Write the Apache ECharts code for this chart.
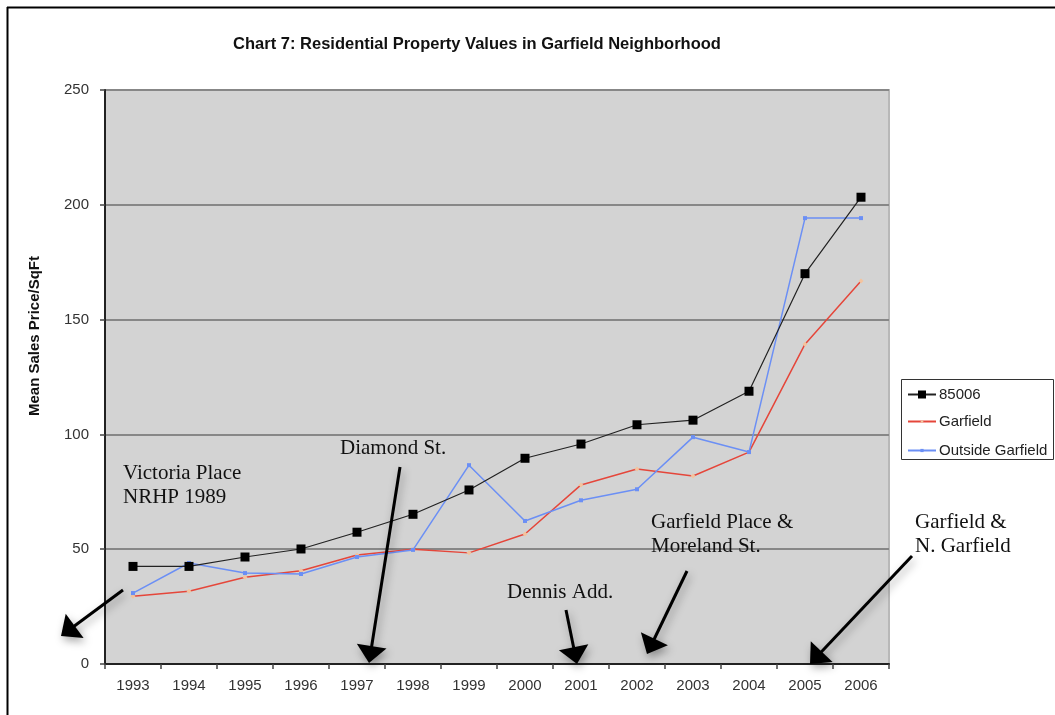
<!DOCTYPE html>
<html>
<head>
<meta charset="utf-8">
<script src="https://cdn.jsdelivr.net/npm/echarts@6/dist/echarts.min.js"></script>
<style>
  html, body { margin: 0; padding: 0; background: #fff; }
  #chart { width: 1055px; height: 715px; }
</style>
</head>
<body>
<div id="chart"></div>
<script>
// Mean sales price per square foot, by year
const years = ['1993','1994','1995','1996','1997','1998','1999','2000','2001','2002','2003','2004','2005','2006'];
const zip85006 = [42.5, 42.5, 46.6, 50.1, 57.4, 65.2, 75.8, 89.6, 95.8, 104.2, 106.2, 118.8, 170, 203.3];
const garfield = [29.5, 31.7, 37.8, 40.6, 47.5, 50, 48.4, 56.6, 78, 84.9, 81.9, 92.3, 139.3, 166.8];
const outsideGarfield = [30.9, 44, 39.6, 39.2, 46.6, 49.7, 86.6, 62.3, 71.3, 76.1, 98.8, 92.3, 194.2, 194.2];
const yTicks = [0, 50, 100, 150, 200, 250];
const seriesNames = ['85006', 'Garfield', 'Outside Garfield'];

// Street / listing annotations with arrows (page pixels)
const notes = [
  { text: 'Victoria Place\nNRHP 1989', x: 123, y: 461, from: [123, 590], to: [61, 636] },
  { text: 'Diamond St.', x: 340, y: 436, from: [400, 467], to: [369, 663] },
  { text: 'Dennis Add.', x: 507, y: 580, from: [566, 610], to: [577, 664] },
  { text: 'Garfield Place &\nMoreland St.', x: 651, y: 510, from: [687, 571], to: [647, 654] },
  { text: 'Garfield &\nN. Garfield', x: 915, y: 510, from: [912, 556], to: [810, 664] }
];

function arrow(from, to) {
  const dx = to[0] - from[0], dy = to[1] - from[1];
  const len = Math.sqrt(dx * dx + dy * dy);
  const ux = dx / len, uy = dy / len;
  const headLen = 17, headHalf = 15;
  const bx = to[0] - ux * headLen, by = to[1] - uy * headLen;
  const px = -uy, py = ux;
  const shadow = { shadowBlur: 8, shadowColor: 'rgba(0,0,0,0.35)', shadowOffsetX: 2, shadowOffsetY: 4 };
  return [
    {
      type: 'line', z: 50,
      shape: { x1: from[0], y1: from[1], x2: bx + ux * 2, y2: by + uy * 2 },
      style: Object.assign({ stroke: '#000', lineWidth: 3 }, shadow)
    },
    {
      type: 'polygon', z: 50,
      shape: { points: [[to[0], to[1]], [bx + px * headHalf, by + py * headHalf], [bx - px * headHalf, by - py * headHalf]] },
      style: Object.assign({ fill: '#000' }, shadow)
    }
  ];
}

const sansFont = '"Liberation Sans", Arial, sans-serif';
const graphics = [
  // page frame
  { type: 'line', z: 60, shape: { x1: 7, y1: 7.5, x2: 1055, y2: 7.5 }, style: { stroke: '#000', lineWidth: 2 } },
  { type: 'line', z: 60, shape: { x1: 7.5, y1: 7, x2: 7.5, y2: 715 }, style: { stroke: '#000', lineWidth: 2 } },
  // legend frame
  { type: 'rect', z: 0, shape: { x: 901.5, y: 379.5, width: 152, height: 80 }, style: { fill: '#fff', stroke: '#333', lineWidth: 1 } },
  // value axis title
  {
    type: 'text', z: 10, x: 35, y: 336, rotation: Math.PI / 2,
    style: { text: 'Mean Sales Price/SqFt', font: 'bold 15px ' + sansFont, fill: '#111', align: 'center', verticalAlign: 'middle' }
  }
];
notes.forEach(n => {
  graphics.push({
    type: 'text', z: 55, x: n.x, y: n.y,
    style: { text: n.text, font: '21px "Liberation Serif", "Times New Roman", serif', fill: '#111', lineHeight: 24, verticalAlign: 'top' }
  });
  arrow(n.from, n.to).forEach(g => graphics.push(g));
});

// one legend entry per row, so each keeps its own marker size
const legendRowTop = [387, 414, 443];
const legendMarker = [10, 4, 4];
const legends = seriesNames.map((name, i) => ({
  orient: 'vertical', left: 907, top: legendRowTop[i], padding: 0,
  itemWidth: 28, itemHeight: legendMarker[i], itemGap: 0,
  textStyle: { fontSize: 15, color: '#222', padding: [0, 0, 0, -2] },
  data: [name]
}));

const chart = echarts.init(document.getElementById('chart'), null, { renderer: 'canvas' });
chart.setOption({
  animation: false,
  backgroundColor: '#fff',
  textStyle: { fontFamily: sansFont },
  title: {
    text: 'Chart 7: Residential Property Values in Garfield Neighborhood',
    left: 472, top: 31, textAlign: 'center',
    textStyle: { fontSize: 16.5, fontWeight: 'bold', color: '#111', fontFamily: sansFont }
  },
  grid: {
    left: 105, top: 90, right: 166, bottom: 51,
    show: true, backgroundColor: '#d3d3d3', borderColor: '#b8b8b8', borderWidth: 2
  },
  legend: legends,
  xAxis: {
    type: 'category', data: years, boundaryGap: true,
    axisLine: { lineStyle: { color: '#222', width: 2 } },
    axisTick: { show: true, length: 5, lineStyle: { color: '#444', width: 1.5 } },
    axisLabel: { fontSize: 15, color: '#333', margin: 14 }
  },
  yAxis: {
    type: 'value', min: 0, max: 250, interval: 50,
    axisLine: { show: true, lineStyle: { color: '#222', width: 2 } },
    axisTick: { show: true, length: 5, lineStyle: { color: '#444', width: 1.5 } },
    axisLabel: { fontSize: 15, color: '#333', margin: 16, formatter: v => yTicks.includes(v) ? String(v) : '' },
    splitLine: { lineStyle: { color: '#878787', width: 2 } }
  },
  series: [
    {
      name: seriesNames[1], type: 'line', data: garfield,
      symbol: 'diamond', symbolSize: 5, showAllSymbol: true,
      lineStyle: { color: '#e5463a', width: 1.5 },
      itemStyle: { color: '#f4c39e' }, z: 3
    },
    {
      name: seriesNames[2], type: 'line', data: outsideGarfield,
      symbol: 'rect', symbolSize: 4, showAllSymbol: true,
      lineStyle: { color: '#6b8ff5', width: 1.5 },
      itemStyle: { color: '#6b8ff5' }, z: 4
    },
    {
      name: seriesNames[0], type: 'line', data: zip85006,
      symbol: 'rect', symbolSize: 9, showAllSymbol: true,
      lineStyle: { color: '#222', width: 1.2 },
      itemStyle: { color: '#000' }, z: 5
    }
  ],
  graphic: graphics
});
</script>
</body>
</html>
